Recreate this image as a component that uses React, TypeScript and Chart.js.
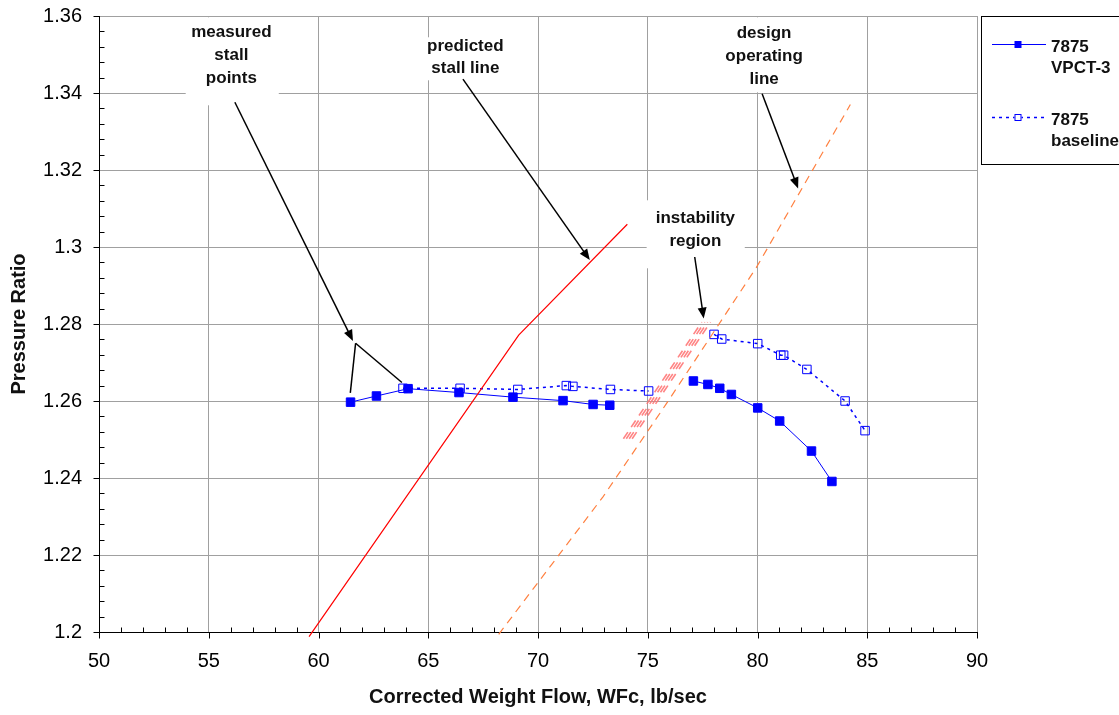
import React, { useEffect, useRef } from "react";
import { Chart, registerables } from "chart.js";

Chart.register(...registerables);

// ---------- data ----------
// 7875 VPCT-3 (two measured runs)
const vpctLowX = [61.46, 62.64, 64.08, 66.4, 68.86, 71.14, 72.51, 73.27];
const vpctLowY = [1.2597, 1.2613, 1.2632, 1.2622, 1.261, 1.2601, 1.2591, 1.2589];
const vpctHighX = [77.08, 77.74, 78.28, 78.81, 80.01, 81.01, 82.46, 83.39];
const vpctHighY = [1.2652, 1.2643, 1.2633, 1.2617, 1.2582, 1.2548, 1.247, 1.2391];

// 7875 baseline (two measured runs)
const baseLowX = [63.85, 66.45, 69.08, 71.29, 71.59, 73.3, 75.04];
const baseLowY = [1.2633, 1.2633, 1.263, 1.264, 1.2638, 1.263, 1.2626];
const baseHighX = [78.02, 78.37, 80.01, 81.06, 81.19, 82.25, 83.99, 84.9];
const baseHighY = [1.2773, 1.2761, 1.2749, 1.2719, 1.2719, 1.2682, 1.26, 1.2523];

const stallX = [59.57, 69.12, 74.07];
const stallY = [1.1988, 1.2771, 1.3059];

const designX = [68.21, 72.96, 75.85, 79.95, 84.23];
const designY = [1.1994, 1.2351, 1.2593, 1.2947, 1.337];

const instabX = [74.09, 77.66];
const instabY = [1.2502, 1.2805];

const xTicks = [50, 55, 60, 65, 70, 75, 80, 85, 90];
const yTicks = [1.2, 1.22, 1.24, 1.26, 1.28, 1.3, 1.32, 1.34, 1.36];

const legendLabels = [["7875", "VPCT-3"], ["7875", "baseline"]];

// annotation texts (data coords: centre x, first baseline y)
const notes = [
  { lines: ["measured", "stall", "points"], x: 56.03, y: 1.35447, gap: 23, box: [53.95, 1.35966, 58.19, 1.33681] },
  { lines: ["predicted", "stall line"], x: 66.69, y: 1.35094, gap: 22, box: [64.75, 1.35447, 68.67, 1.3433] },
  { lines: ["design", "operating", "line"], x: 80.3, y: 1.35439, gap: 23, box: [78.19, 1.35966, 82.38, 1.34018] },
  { lines: ["instability", "region"], x: 77.17, y: 1.30615, gap: 22.6, box: [74.95, 1.31213, 79.42, 1.29447] },
];

// arrows [x0,y0,x1,y1,head]
const arrows: [number, number, number, number, boolean][] = [
  [56.19, 1.3376, 61.57, 1.2756, true],
  [61.69, 1.275, 61.45, 1.2621, false],
  [61.69, 1.275, 63.8, 1.2648, false],
  [66.58, 1.3436, 72.36, 1.2966, true],
  [80.21, 1.3398, 81.85, 1.3152, true],
  [77.14, 1.2974, 77.55, 1.2814, true],
];

const BLUE = "#0000ff";
const FONT = "'Liberation Sans', Arial, sans-serif";

const zip = (xs: number[], ys: number[]) => xs.map((x, i) => ({ x, y: ys[i] }));

const overlay = {
  id: "overlay",
  beforeDatasetsDraw(chart: any) {
    const { ctx, scales } = chart;
    const xs = scales.x, ys = scales.y;
    ctx.save();
    ctx.fillStyle = "#ffffff";
    for (const n of notes) {
      const x0 = xs.getPixelForValue(n.box[0]);
      const y0 = ys.getPixelForValue(n.box[1]);
      const x1 = xs.getPixelForValue(n.box[2]);
      const y1 = ys.getPixelForValue(n.box[3]);
      ctx.fillRect(x0, y0, x1 - x0, y1 - y0);
    }
    ctx.restore();
  },
  afterDraw(chart: any) {
    const { ctx, scales, chartArea } = chart;
    const xs = scales.x, ys = scales.y;
    ctx.save();
    // minor / major ticks
    ctx.strokeStyle = "#000";
    ctx.lineWidth = 1;
    ctx.beginPath();
    const bottom = Math.round(chartArea.bottom) + 0.5;
    for (let v = 50; v <= 90; v++) {
      const px = Math.round(xs.getPixelForValue(v)) + 0.5;
      if (v % 5 === 0) { ctx.moveTo(px, bottom); ctx.lineTo(px, bottom + 6); }
      else { ctx.moveTo(px, bottom - 5); ctx.lineTo(px, bottom); }
    }
    const left = Math.round(chartArea.left) + 0.5;
    for (let i = 0; i <= 40; i++) {
      const v = 1.2 + i * 0.004;
      const py = Math.round(ys.getPixelForValue(v)) + 0.5;
      if (i % 5 === 0) { ctx.moveTo(left - 6, py); ctx.lineTo(left, py); }
      else { ctx.moveTo(left, py); ctx.lineTo(left + 5, py); }
    }
    ctx.stroke();

    // arrows
    ctx.lineWidth = 1.5;
    ctx.fillStyle = "#000";
    for (const [ax0, ay0, ax1, ay1, head] of arrows) {
      const x0 = xs.getPixelForValue(ax0), y0 = ys.getPixelForValue(ay0);
      const x1 = xs.getPixelForValue(ax1), y1 = ys.getPixelForValue(ay1);
      const ang = Math.atan2(y1 - y0, x1 - x0);
      const hl = head ? 11 : 0;
      ctx.beginPath();
      ctx.moveTo(x0, y0);
      ctx.lineTo(x1 - Math.cos(ang) * hl * 0.8, y1 - Math.sin(ang) * hl * 0.8);
      ctx.stroke();
      if (head) {
        ctx.beginPath();
        ctx.moveTo(x1, y1);
        ctx.lineTo(x1 - hl * Math.cos(ang) + 4.5 * Math.sin(ang), y1 - hl * Math.sin(ang) - 4.5 * Math.cos(ang));
        ctx.lineTo(x1 - hl * Math.cos(ang) - 4.5 * Math.sin(ang), y1 - hl * Math.sin(ang) + 4.5 * Math.cos(ang));
        ctx.closePath();
        ctx.fill();
      }
    }

    // annotation texts
    ctx.font = `bold 17px ${FONT}`;
    ctx.textAlign = "center";
    ctx.textBaseline = "alphabetic";
    ctx.fillStyle = "#111";
    for (const n of notes) {
      const cx = xs.getPixelForValue(n.x);
      const by = ys.getPixelForValue(n.y);
      n.lines.forEach((t, i) => ctx.fillText(t, cx, by + i * n.gap));
    }

    // legend
    const lx = chartArea.right + 4;
    const ly = chartArea.top;
    ctx.fillStyle = "#fff";
    ctx.fillRect(lx, ly, 200, 148);
    ctx.strokeStyle = "#000";
    ctx.lineWidth = 1;
    ctx.strokeRect(Math.round(lx) + 0.5, Math.round(ly) + 0.5, 200, 148);
    const rows = [ly + 28, ly + 101];
    rows.forEach((ry, i) => {
      ctx.strokeStyle = BLUE;
      ctx.lineWidth = i === 0 ? 1 : 1.5;
      ctx.setLineDash(i === 0 ? [] : [3, 4]);
      ctx.beginPath();
      ctx.moveTo(lx + 11, ry + 0.5);
      ctx.lineTo(lx + 65, ry + 0.5);
      ctx.stroke();
      ctx.setLineDash([]);
      const mx = lx + 37;
      if (i === 0) {
        ctx.fillStyle = BLUE;
        ctx.fillRect(mx - 3.5, ry - 3, 7, 7);
      } else {
        ctx.fillStyle = "#fff";
        ctx.fillRect(mx - 3.5, ry - 3, 7, 7);
        ctx.lineWidth = 1;
        ctx.strokeRect(mx - 3, ry - 2.5, 6, 6);
      }
      ctx.fillStyle = "#111";
      ctx.font = `bold 17px ${FONT}`;
      ctx.textAlign = "left";
      legendLabels[i].forEach((t, k) => ctx.fillText(t, lx + 70, ry + 7.5 + k * 21.5));
    });
    ctx.restore();
  },
};

export default function App() {
  const ref = useRef<HTMLCanvasElement>(null);
  useEffect(() => {
    const instabOffsets = [-0.2, -0.067, 0.067, 0.2];
    const instabSets = instabOffsets.map((o) => ({
      label: "instability",
      data: zip(instabX.map((v) => v + o), instabY),
      showLine: true,
      borderColor: "rgba(255,110,110,0.85)",
      borderWidth: 1.6,
      borderDash: [8, 6],
      pointRadius: 0,
      fill: false,
    }));
    const measured = (label: string, d: any[], filled: boolean) => ({
      label,
      data: d,
      showLine: true,
      borderColor: BLUE,
      borderWidth: filled ? 1 : 1.5,
      borderDash: filled ? [] : [3, 4],
      pointStyle: "rect",
      pointRadius: 6,
      pointBorderWidth: 1,
      pointBorderColor: BLUE,
      pointBackgroundColor: filled ? BLUE : "rgba(0,0,0,0)",
    });
    const chart = new Chart(ref.current!, {
      type: "scatter",
      data: {
        datasets: [
          {
            label: "predicted stall line",
            data: zip(stallX, stallY),
            showLine: true,
            borderColor: "#ff0000",
            borderWidth: 1.2,
            pointRadius: 0,
            clip: 8,
          } as any,
          {
            label: "design operating line",
            data: zip(designX, designY),
            showLine: true,
            borderColor: "#ff8040",
            borderWidth: 1.2,
            borderDash: [8, 6],
            pointRadius: 0,
            clip: 8,
          } as any,
          ...instabSets,
          measured("7875 baseline", zip(baseLowX, baseLowY), false),
          measured("7875 baseline", zip(baseHighX, baseHighY), false),
          measured("7875 VPCT-3", zip(vpctLowX, vpctLowY), true),
          measured("7875 VPCT-3", zip(vpctHighX, vpctHighY), true),
        ] as any,
      },
      options: {
        animation: false,
        responsive: false,
        devicePixelRatio: 1,
        layout: { padding: { top: 16, right: 142, left: 0, bottom: 0 } },
        plugins: { legend: { display: false }, tooltip: { enabled: false } },
        scales: {
          x: {
            type: "linear",
            min: 50,
            max: 90,
            afterBuildTicks: (s: any) => { s.ticks = xTicks.map((v) => ({ value: v })); },
            afterFit: (s: any) => { s.height = 83; s.paddingLeft = 0; s.paddingRight = 0; },
            ticks: { padding: 17, color: "#000", font: { family: FONT, size: 20 } },
            grid: { color: "#a0a0a0", lineWidth: 1, drawTicks: false },
            border: { color: "#000", width: 1 },
            title: {
              display: true,
              text: "Corrected Weight Flow, WFc, lb/sec",
              color: "#111",
              font: { family: FONT, size: 20, weight: "bold" },
              padding: { top: 0, bottom: 6 },
            },
          },
          y: {
            type: "linear",
            min: 1.2,
            max: 1.36,
            afterBuildTicks: (s: any) => { s.ticks = yTicks.map((v) => ({ value: v })); },
            afterFit: (s: any) => { s.width = 99; s.paddingTop = 0; s.paddingBottom = 0; },
            ticks: {
              padding: 17,
              color: "#000",
              font: { family: FONT, size: 20 },
              callback: (v: any) => String(Number(Number(v).toFixed(2))),
            },
            grid: { color: "#a0a0a0", lineWidth: 1, drawTicks: false },
            border: { color: "#000", width: 1 },
            title: {
              display: true,
              text: "Pressure Ratio",
              color: "#111",
              font: { family: FONT, size: 20, weight: "bold" },
              padding: { top: 7, bottom: 0 },
            },
          },
        },
      },
      plugins: [overlay],
    });
    return () => chart.destroy();
  }, []);
  return (
    <div style={{ position: "fixed", left: 0, top: 0, width: 1119, height: 715, background: "#fff" }}>
      <canvas ref={ref} width={1119} height={715} style={{ display: "block", width: 1119, height: 715 }} />
    </div>
  );
}
